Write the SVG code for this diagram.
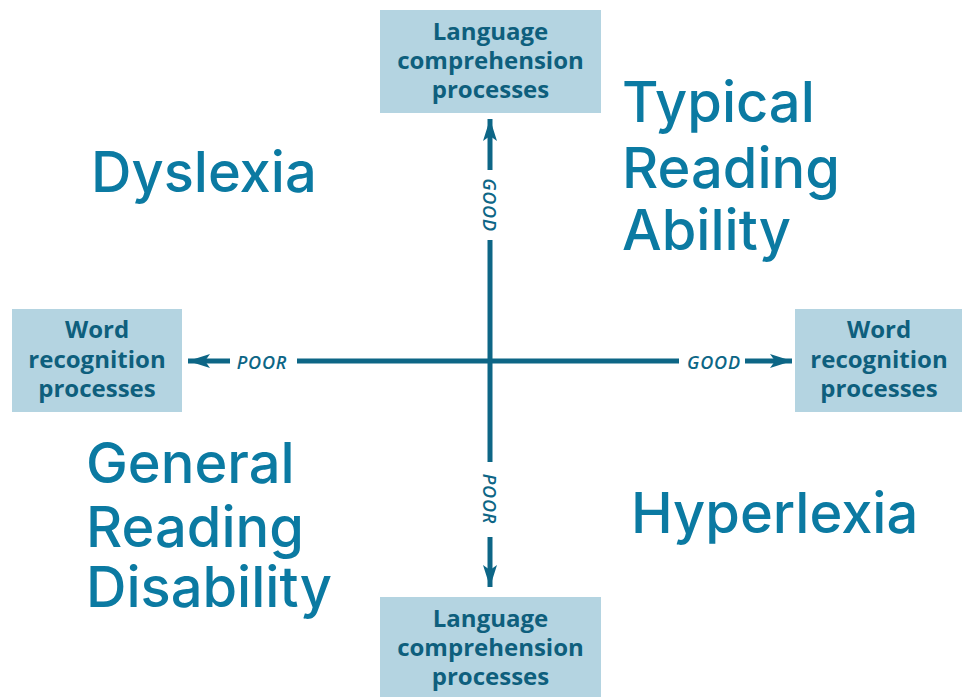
<svg xmlns="http://www.w3.org/2000/svg" width="962" height="697" viewBox="0 0 962 697">
<defs>
<style>
.box{fill:#b4d4e1}
.bt{font-family:"Open Sans","Liberation Sans",sans-serif;font-weight:700;font-size:24px;fill:#0e5f7d;text-anchor:middle}
.big{font-family:Inter,"Liberation Sans",sans-serif;font-weight:500;font-size:56px;fill:#0b7aa2}
.ax{stroke:#0d6686;stroke-width:5;fill:none}
.lab{font-family:"Open Sans","Liberation Sans",sans-serif;font-style:italic;font-weight:600;font-size:18px;letter-spacing:0.8px;fill:#0d6686;text-anchor:middle;dominant-baseline:central}
</style>
<marker id="ah" viewBox="0 0 22 14" refX="22" refY="7" markerWidth="22" markerHeight="14" markerUnits="userSpaceOnUse" orient="auto">
<path d="M0,0 L22,7 L0,14 L5,7 Z" fill="#0d6686"/>
</marker>
</defs>
<rect width="962" height="697" fill="#fff"/>
<g id="connectors">
<path class="ax" d="M490,170 V119" marker-end="url(#ah)"/>
<path class="ax" d="M490,240 V462"/>
<path class="ax" d="M490,537 V587" marker-end="url(#ah)"/>
<path class="ax" d="M230,361 H188" marker-end="url(#ah)"/>
<path class="ax" d="M297,361 H679"/>
<path class="ax" d="M745,361 H792" marker-end="url(#ah)"/>
<text class="lab" transform="translate(490,205) rotate(90)">GOOD</text>
<text class="lab" transform="translate(490,499) rotate(90)">POOR</text>
<text class="lab" x="262" y="362">POOR</text>
<text class="lab" x="714" y="362">GOOD</text>
</g>
<g id="lang-top">
<rect class="box" x="380" y="10" width="221" height="103"/>
<text class="bt" x="490.5" y="40">Language</text>
<text class="bt" x="490.5" y="69">comprehension</text>
<text class="bt" x="490.5" y="98">processes</text>
</g>
<g id="lang-bottom">
<rect class="box" x="380" y="597" width="221" height="103"/>
<text class="bt" x="490.5" y="627">Language</text>
<text class="bt" x="490.5" y="656">comprehension</text>
<text class="bt" x="490.5" y="685">processes</text>
</g>
<g id="word-left">
<rect class="box" x="12" y="309" width="170" height="103"/>
<text class="bt" x="97" y="338">Word</text>
<text class="bt" x="97" y="368">recognition</text>
<text class="bt" x="97" y="397">processes</text>
</g>
<g id="word-right">
<rect class="box" x="795" y="309" width="167" height="103"/>
<text class="bt" x="879" y="338">Word</text>
<text class="bt" x="879" y="368">recognition</text>
<text class="bt" x="879" y="397">processes</text>
</g>
<g id="dyslexia"><text class="big" x="91" y="192">Dyslexia</text></g>
<g id="typical"><text class="big" x="622" y="122">Typical</text><text class="big" x="622" y="188">Reading</text><text class="big" x="622" y="250">Ability</text></g>
<g id="general"><text class="big" x="86" y="483">General</text><text class="big" x="86" y="547">Reading</text><text class="big" x="86" y="607">Disability</text></g>
<g id="hyperlexia"><text class="big" x="631" y="533">Hyperlexia</text></g>
</svg>
